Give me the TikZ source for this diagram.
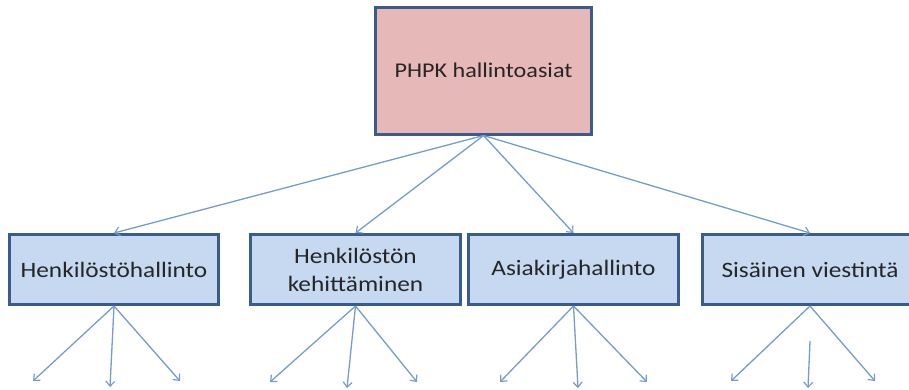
\documentclass[tikz,border=0pt]{standalone}
\usepackage{fontspec}
\setmainfont{Carlito}
\newfontfamily\labelfont[FakeStretch=1.15]{Carlito}
\usetikzlibrary{arrows.meta}
\definecolor{boxedge}{RGB}{56,93,138}
\definecolor{headfill}{RGB}{230,185,184}
\definecolor{unitfill}{RGB}{198,217,241}
\definecolor{linkblue}{RGB}{116,156,208}
\tikzset{
  headbox/.style={draw=boxedge, fill=headfill, line width=3pt, inner sep=0pt,
    minimum width=216pt, minimum height=127pt,
    font=\labelfont\fontsize{21}{26}\selectfont, text=black!85},
  unitbox/.style={draw=boxedge, fill=unitfill, line width=3pt, inner sep=0pt,
    minimum height=70pt, align=center,
    font=\labelfont\fontsize{22}{28}\selectfont, text=black!85},
  link/.style={draw=linkblue, line width=1.3pt,
    -{Straight Barb[length=5pt,width=9pt,line width=1.2pt]}}
}
\begin{document}
\begin{tikzpicture}[x=1pt, y=-1pt]
  \useasboundingbox (0,0) rectangle (909,389);
  \clip (0,0) rectangle (909,389);

  % top-level box
  \node[headbox] (top) at (483.5,70.5) {PHPK hallintoasiat};

  % second-level boxes
  \node[unitbox, minimum width=209pt] (b1) at (114,269.5) {Henkilöstöhallinto};
  \node[unitbox, minimum width=210pt] (b2) at (355.5,269.5) {Henkilöstön\\kehittäminen};
  \node[unitbox, minimum width=210pt] (b3) at (573.5,269.5) {Asiakirjahallinto};
  \node[unitbox, minimum width=215pt] (b4) at (810,269.5) {Sisäinen viestintä};

  % links from the top box
  \draw[link] (top.south) -- (b1.north);
  \draw[link] (top.south) -- (b2.north);
  \draw[link] (top.south) -- (b3.north);
  \draw[link] (top.south) -- (b4.north);

  % open ends below each box
  \coordinate (e1a) at (33,381);  \coordinate (e1b) at (110,387); \coordinate (e1c) at (180,381);
  \coordinate (e2a) at (270,382); \coordinate (e2b) at (347,388); \coordinate (e2c) at (417,382);
  \coordinate (e3a) at (500,382); \coordinate (e3b) at (578,388); \coordinate (e3c) at (647,382);
  \coordinate (e4a) at (731,381); \coordinate (e4s) at (810,341); \coordinate (e4b) at (808,388);
  \coordinate (e4c) at (875,381);

  \draw[link] (b1.south) -- (e1a);
  \draw[link] (b1.south) -- (e1b);
  \draw[link] (b1.south) -- (e1c);
  \draw[link] (b2.south) -- (e2a);
  \draw[link] (b2.south) -- (e2b);
  \draw[link] (b2.south) -- (e2c);
  \draw[link] (b3.south) -- (e3a);
  \draw[link] (b3.south) -- (e3b);
  \draw[link] (b3.south) -- (e3c);
  \draw[link] (b4.south) -- (e4a);
  \draw[link] (e4s) -- (e4b);
  \draw[link] (b4.south) -- (e4c);
\end{tikzpicture}
\end{document}
